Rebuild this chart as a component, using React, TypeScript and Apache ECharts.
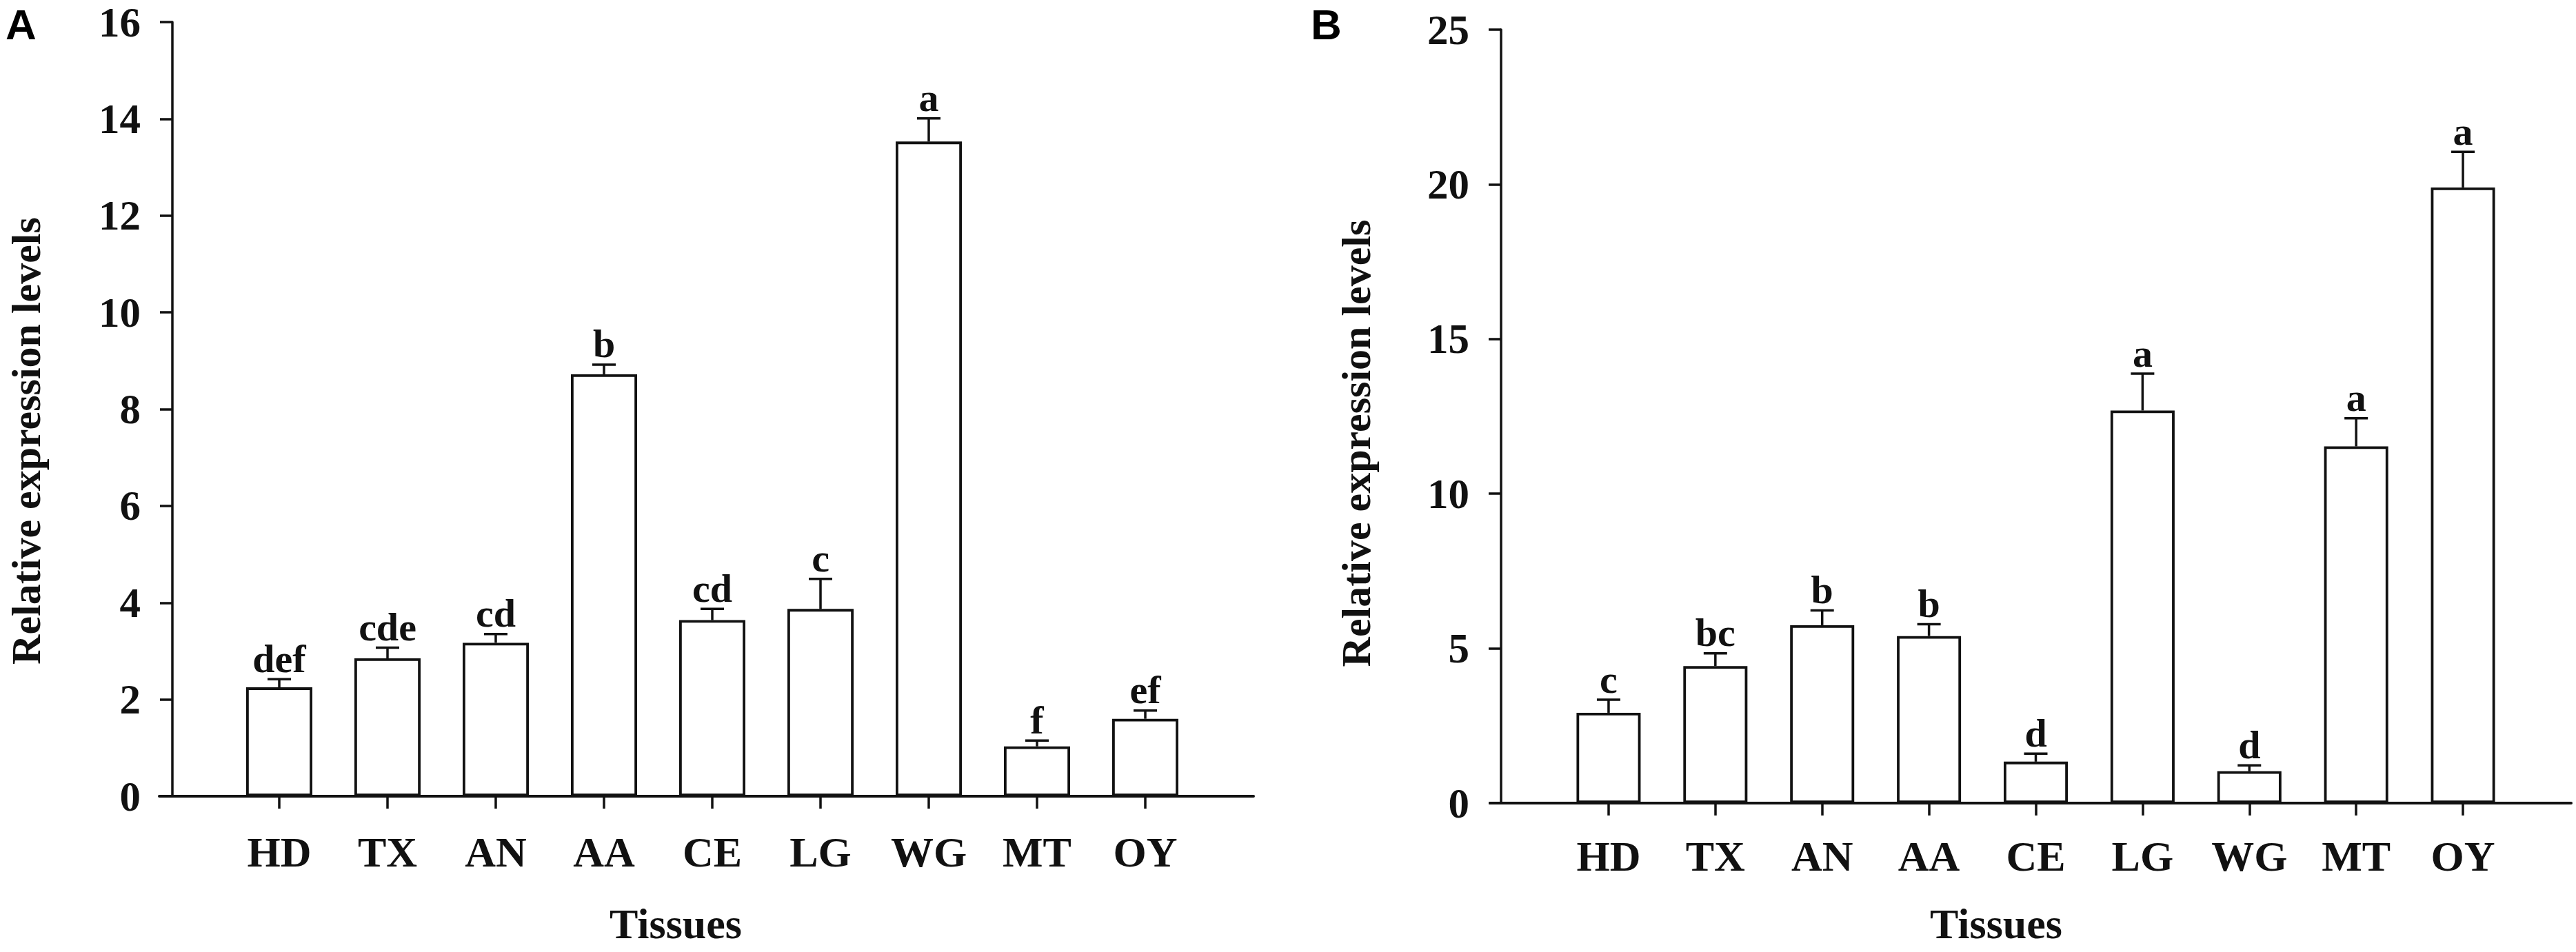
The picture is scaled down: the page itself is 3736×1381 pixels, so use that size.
import React, { useEffect, useRef } from "react";
import * as echarts from "echarts";

const categories = ["HD", "TX", "AN", "AA", "CE", "LG", "WG", "MT", "OY"];

const valuesA = [2.25, 2.85, 3.17, 8.72, 3.64, 3.87, 13.53, 1.03, 1.6];
const errorsA = [0.17, 0.22, 0.18, 0.2, 0.23, 0.62, 0.48, 0.12, 0.17];
const lettersA = ["def", "cde", "cd", "b", "cd", "c", "a", "f", "ef"];

const valuesB = [2.92, 4.43, 5.75, 5.4, 1.34, 12.69, 1.03, 11.53, 19.9];
const errorsB = [0.42, 0.41, 0.48, 0.38, 0.26, 1.19, 0.19, 0.91, 1.15];
const lettersB = ["c", "bc", "b", "b", "d", "a", "d", "a", "a"];

const yTitle = "Relative expression levels";
const xTitle = "Tissues";

const INK = "#111111";
const SERIF = "'Liberation Serif', 'Times New Roman', serif";

function errorSeries(xi: number, yi: number, values: number[], errors: number[], letters: string[]) {
  return {
    type: "custom",
    xAxisIndex: xi,
    yAxisIndex: yi,
    clip: false,
    z: 5,
    encode: { x: 0, y: 1 },
    data: values.map((v, i) => [i, v, errors[i]]),
    renderItem: (params: any, api: any) => {
      const x = api.value(0);
      const v = api.value(1);
      const e = api.value(2);
      const p0 = api.coord([x, v]);
      const p1 = api.coord([x, v + e]);
      const half = 17;
      return {
        type: "group",
        children: [
          {
            type: "line",
            shape: { x1: p0[0], y1: p0[1], x2: p1[0], y2: p1[1] },
            style: { stroke: INK, lineWidth: 3.5 },
          },
          {
            type: "line",
            shape: { x1: p1[0] - half, y1: p1[1], x2: p1[0] + half, y2: p1[1] },
            style: { stroke: INK, lineWidth: 3.5 },
          },
          {
            type: "text",
            x: p1[0],
            y: p1[1] - 1,
            style: {
              text: letters[params.dataIndex],
              align: "center",
              verticalAlign: "bottom",
              fontFamily: SERIF,
              fontWeight: "bold",
              fontSize: 58,
              fill: INK,
            },
          },
        ],
      };
    },
  };
}

function frameAxes(gridIndex: number, max: number, interval: number, offset: number, namePadY: number, namePadX: number, nameGapY: number, nameGapX: number) {
  const xAxis = {
    type: "value",
    gridIndex,
    min: 0,
    max: 1,
    axisLine: { show: true, lineStyle: { color: INK, width: 4 } },
    axisTick: { show: false },
    axisLabel: { show: false },
    splitLine: { show: false },
    name: xTitle,
    nameLocation: "middle",
    nameGap: nameGapX,
    nameTextStyle: {
      fontFamily: SERIF,
      fontWeight: "bold",
      fontSize: 62,
      color: INK,
      padding: [0, namePadX, 0, 0],
    },
  };
  const yAxis = {
    type: "value",
    gridIndex,
    min: 0,
    max,
    interval,
    offset,
    axisLine: { show: true, lineStyle: { color: INK, width: 3.5 } },
    axisTick: { show: true, inside: false, length: 18, lineStyle: { color: INK, width: 3.5 } },
    axisLabel: {
      margin: 46,
      fontFamily: SERIF,
      fontWeight: "bold",
      fontSize: 61,
      lineHeight: 48,
      color: INK,
    },
    splitLine: { show: false },
    name: yTitle,
    nameLocation: "middle",
    nameRotate: 90,
    nameGap: nameGapY,
    nameTextStyle: {
      fontFamily: SERIF,
      fontWeight: "bold",
      fontSize: 60,
      color: INK,
      padding: [0, namePadY, 0, 0],
    },
  };
  return { xAxis, yAxis };
}

function barAxes(gridIndex: number, max: number, margin: number) {
  const xAxis = {
    type: "category",
    gridIndex,
    data: categories,
    boundaryGap: true,
    axisLine: { show: false },
    axisTick: { show: true, alignWithLabel: true, length: 18, lineStyle: { color: INK, width: 3.5 } },
    axisLabel: {
      margin,
      interval: 0,
      fontFamily: SERIF,
      fontWeight: "bold",
      fontSize: 62,
      color: INK,
    },
    splitLine: { show: false },
  };
  const yAxis = {
    type: "value",
    gridIndex,
    min: 0,
    max,
    show: false,
    splitLine: { show: false },
  };
  return { xAxis, yAxis };
}

function barSeries(xi: number, yi: number, values: number[], width: number) {
  return {
    type: "bar",
    xAxisIndex: xi,
    yAxisIndex: yi,
    data: values,
    barWidth: width,
    z: 3,
    itemStyle: { color: "#ffffff", borderColor: INK, borderWidth: 3.8 },
  };
}

export default function App() {
  const ref = useRef<HTMLDivElement>(null);
  useEffect(() => {
    if (!ref.current) return;
    const chart = echarts.init(ref.current, undefined, { renderer: "svg" });
    const fA = frameAxes(0, 16, 2, -19, 92, 89, 182, 154);
    const bA = barAxes(1, 16, 50);
    const fB = frameAxes(2, 25, 5, -16, 78, 100, 180, 144);
    const bB = barAxes(3, 25, 46);
    chart.setOption({
      animation: false,
      backgroundColor: "#ffffff",
      grid: [
        { left: 231, top: 32, width: 1587, height: 1123 },
        { left: 326.5, top: 32, width: 1413, height: 1123 },
        { left: 2161, top: 43, width: 1568, height: 1122 },
        { left: 2255.5, top: 43, width: 1394, height: 1122 },
      ],
      xAxis: [fA.xAxis, bA.xAxis, fB.xAxis, bB.xAxis],
      yAxis: [fA.yAxis, bA.yAxis, fB.yAxis, bB.yAxis],
      graphic: [
        {
          type: "text",
          left: 8,
          top: 4,
          style: {
            text: "A",
            fontFamily: "'Liberation Sans', Arial, sans-serif",
            fontWeight: "bold",
            fontSize: 62,
            fill: "#000000",
          },
        },
        {
          type: "text",
          left: 1901,
          top: 4,
          style: {
            text: "B",
            fontFamily: "'Liberation Sans', Arial, sans-serif",
            fontWeight: "bold",
            fontSize: 62,
            fill: "#000000",
          },
        },
      ],
      series: [
        barSeries(1, 1, valuesA, 96),
        errorSeries(1, 1, valuesA, errorsA, lettersA),
        barSeries(3, 3, valuesB, 93),
        errorSeries(3, 3, valuesB, errorsB, lettersB),
      ],
    });
    return () => chart.dispose();
  }, []);
  return (
    <div
      ref={ref}
      style={{ position: "fixed", left: 0, top: 0, width: 3736, height: 1381, background: "#fff" }}
    />
  );
}
